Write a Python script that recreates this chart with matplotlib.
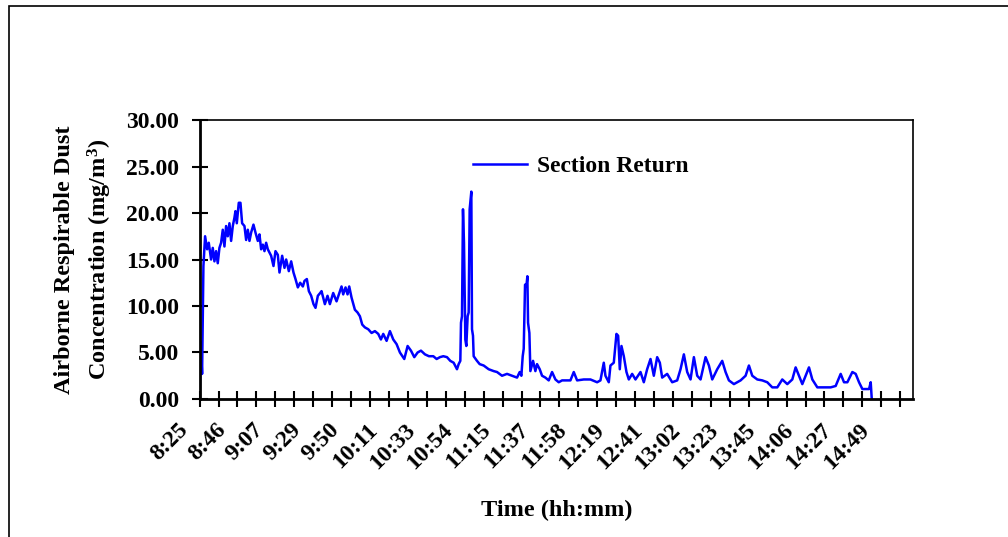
import matplotlib.pyplot as plt
from matplotlib.patches import Rectangle
from matplotlib.transforms import ScaledTranslation
import numpy as np

# minutes elapsed since 8:25
minutes = [0.0, 0.66, 1.41, 2.16, 3.1, 4.23, 5.17, 6.48, 7.42, 8.36, 9.3, 10.24, 11.18, 12.12,
           13.06, 14.0, 14.94, 15.88, 16.82, 17.76, 18.7, 19.64, 20.2, 20.96, 22.08, 23.02,
           23.96, 25.28, 26.22, 27.16, 28.1, 29.04, 30.35, 31.48, 32.8, 33.73, 34.67, 35.62,
           36.55, 37.49, 38.43, 40.31, 41.63, 42.75, 44.07, 45.01, 46.51, 47.83, 48.77, 50.27,
           51.59, 52.9, 54.03, 55.35, 56.66, 58.17, 59.1, 60.42, 61.55, 62.86, 64.18, 65.3,
           66.62, 67.94, 68.69, 70.57, 72.07, 73.39, 75.27, 77.15, 78.46, 79.96, 80.9, 82.22,
           83.35, 84.29, 85.6, 87.48, 88.99, 90.3, 91.62, 93.12, 95.0, 96.88, 98.76, 100.64,
           102.14, 103.46, 105.34, 107.21, 109.09, 110.97, 112.85, 115.3, 117.18, 119.06,
           120.94, 122.81, 124.69, 126.95, 129.2, 131.65, 133.53, 135.41, 137.29, 139.35,
           141.23, 143.11, 144.99, 145.93, 146.87, 147.25, 147.81, 148.37, 148.94, 149.69,
           150.25, 151.0, 151.57, 152.13, 153.07, 153.45, 154.01, 154.39, 156.26, 157.77,
           160.02, 162.84, 165.66, 167.54, 170.36, 173.18, 176.0, 178.82, 180.32, 181.26,
           182.01, 182.58, 183.33, 184.08, 184.64, 185.02, 185.77, 186.33, 187.84, 189.15,
           190.09, 191.6, 192.91, 194.79, 196.67, 198.55, 200.43, 202.31, 204.19, 206.07,
           208.89, 210.77, 212.65, 216.4, 220.16, 223.92, 225.8, 227.68, 228.62, 230.5,
           231.44, 233.32, 234.82, 235.77, 236.7, 237.64, 238.96, 240.46, 241.78, 243.66,
           245.54, 248.36, 250.23, 252.11, 254.0, 255.87, 257.75, 259.26, 260.57, 263.39,
           266.21, 269.03, 270.91, 272.79, 274.67, 276.55, 278.43, 280.31, 282.19, 285.01,
           286.89, 288.77, 291.58, 294.4, 296.28, 298.16, 300.98, 304.74, 307.56, 309.44,
           311.32, 314.14, 316.96, 319.77, 322.59, 325.41, 328.23, 331.05, 333.87, 335.75,
           337.63, 339.51, 341.39, 343.27, 345.15, 347.97, 351.73, 355.48, 358.3, 361.12,
           363.0, 364.88, 367.7, 369.58, 371.46, 373.34, 375.22, 377.1, 378.04, 378.6]

dust = [0.2, 6.1, 2.7, 14.3, 17.5, 16.1, 16.8, 15.0, 16.25, 14.8, 15.9, 14.6, 16.25, 16.8,
        18.2, 16.4, 18.6, 17.5, 18.9, 17.0, 18.6, 19.5, 20.2, 18.9, 21.1, 21.1,
        18.9, 18.6, 17.1, 18.2, 17.0, 17.9, 18.75, 17.9, 17.0, 17.7, 16.1, 16.6,
        15.9, 16.8, 16.1, 15.4, 14.3, 15.9, 15.5, 13.6, 15.4, 14.1, 15.0, 13.75,
        14.8, 13.6, 12.9, 12.0, 12.5, 12.1, 12.7, 12.9, 11.6, 11.1, 10.2, 9.8,
        11.1, 11.4, 11.6, 10.2, 11.1, 10.2, 11.4, 10.5, 11.25, 12.1, 11.25, 12.0,
        11.25, 12.1, 10.9, 9.6, 9.3, 8.9, 8.0, 7.7, 7.5, 7.1, 7.3, 7.0,
        6.4, 7.0, 6.25, 7.3, 6.4, 5.9, 5.0, 4.3, 5.7, 5.2,
        4.5, 5.0, 5.2, 4.8, 4.6, 4.6, 4.3, 4.5, 4.6, 4.5,
        4.1, 3.9, 3.2, 3.75, 4.1, 8.2, 8.9, 20.4, 16.8, 6.4,
        5.7, 8.9, 9.3, 20.4, 22.3, 7.5, 6.8, 4.6, 4.1, 3.75,
        3.6, 3.2, 3.0, 2.9, 2.5, 2.7, 2.5, 2.3, 2.9, 2.5,
        4.6, 5.4, 12.3, 12.1, 13.2, 8.2, 7.1, 3.0, 4.1, 3.0,
        3.75, 3.2, 2.5, 2.3, 2.0, 2.9, 2.1, 1.8, 2.0, 2.0,
        2.0, 2.9, 2.0, 2.1, 2.1, 1.8, 2.0, 3.9, 2.5, 1.8,
        3.6, 3.9, 7.0, 6.8, 3.2, 5.7, 4.6, 2.9, 2.1, 2.7,
        2.1, 2.9, 1.8, 3.2, 4.3, 2.5, 4.5, 3.9, 2.3, 2.7,
        1.8, 2.0, 3.2, 4.8, 2.9, 2.1, 4.5, 2.5, 2.1, 4.5,
        3.6, 2.1, 3.2, 4.1, 2.9, 2.0, 1.6, 2.0, 2.5, 3.6,
        2.5, 2.1, 2.0, 1.8, 1.25, 1.25, 2.1, 1.6, 2.1, 3.4,
        2.5, 1.6, 2.5, 3.4, 2.1, 1.25, 1.25, 1.25, 1.4, 2.7,
        1.8, 1.8, 2.9, 2.7, 1.8, 1.07, 1.07, 1.07, 1.8, 0.1]

time_labels = ['8:25', '8:46', '9:07', '9:29', '9:50', '10:11', '10:33', '10:54', '11:15',
               '11:37', '11:58', '12:19', '12:41', '13:02', '13:23', '13:45', '14:06',
               '14:27', '14:49']

plt.rcParams['font.family'] = 'Liberation Serif'
plt.rcParams['font.weight'] = 'bold'
plt.rcParams['axes.labelweight'] = 'bold'
plt.rcParams['mathtext.fontset'] = 'custom'
plt.rcParams['mathtext.rm'] = 'Liberation Serif:bold'
plt.rcParams['mathtext.it'] = 'Liberation Serif:bold'

fig = plt.figure(figsize=(10.08, 5.37), dpi=100)
ax = fig.add_axes([0.198, 0.257, 0.708, 0.5195])

# outer chart frame
fig.patches.append(Rectangle((0.009, -0.2), 1.2, 1.2 - 0.0112, transform=fig.transFigure,
                             fill=False, edgecolor='black', linewidth=1.2))

ax.plot(minutes, dust, color='#0000ff', linewidth=1.8, label='Section Return')

# category-style ticks: one every 640 s, label on every second one
tick_step = 640 / 60
ticks = np.arange(38) * tick_step
ax.set_xticks(ticks)
ax.set_xticklabels([''] * len(ticks))
offset = ScaledTranslation(-0.15, -0.28, fig.dpi_scale_trans)
for k, lab in enumerate(time_labels):
    ax.text(ticks[2 * k], 0, lab, transform=ax.get_xaxis_transform() + offset,
            rotation=45, ha='right', va='center', rotation_mode='anchor', fontsize=17)

ax.set_xlim(0, 402)
ax.set_ylim(0, 30)
ax.set_yticks(np.arange(0, 31, 5))
ax.set_yticklabels(['%.2f' % v for v in np.arange(0, 31, 5)], fontsize=17)
ax.tick_params(axis='both', direction='inout', length=12, width=1.5, color='black')
ax.tick_params(axis='y', pad=9)

for s in ['left', 'bottom']:
    ax.spines[s].set_linewidth(2)
for s in ['top', 'right']:
    ax.spines[s].set_linewidth(1.2)

ax.set_xlabel('Time (hh:mm)', fontsize=17.5, va='top')
ax.xaxis.set_label_coords(0.5, -0.36)
ax.set_ylabel('Airborne Respirable Dust\nConcentration (mg/m$^{3}$)', fontsize=17.5,
              linespacing=1.5, va='bottom')
ax.yaxis.set_label_coords(-0.12, 0.5)

ax.legend(loc='center left', bbox_to_anchor=(0.383, 0.833), frameon=False, fontsize=17,
          handlelength=2.3, handletextpad=0.4, borderpad=0, borderaxespad=0)

plt.savefig('out.png', dpi=100)
